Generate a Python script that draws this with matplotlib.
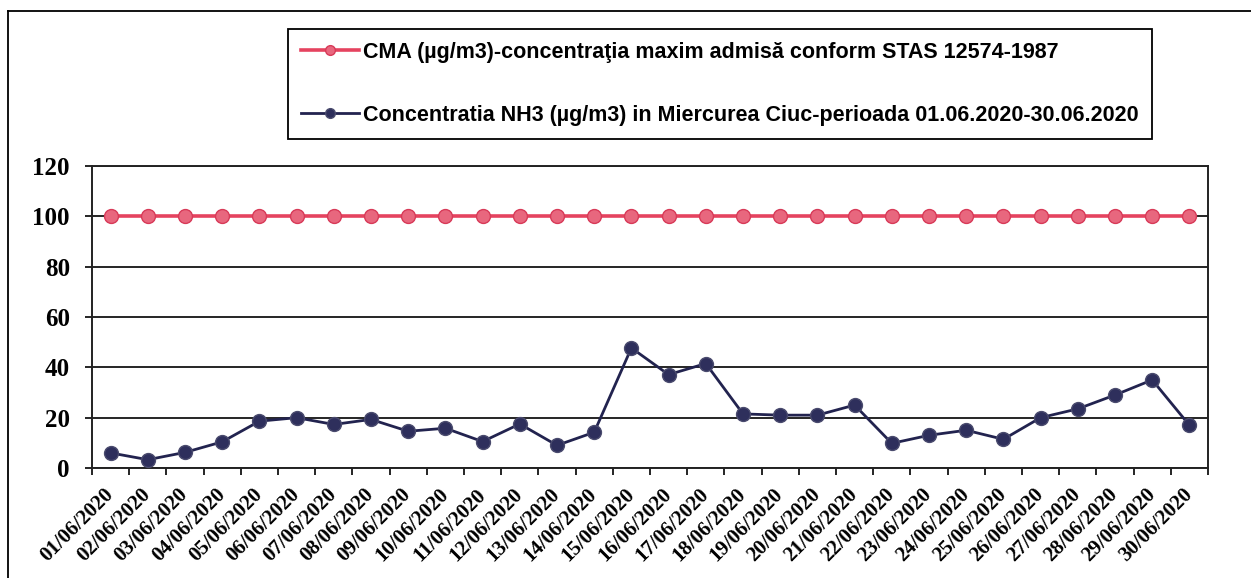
import matplotlib
matplotlib.use("Agg")
import matplotlib.pyplot as plt
import matplotlib.transforms as mtransforms
from matplotlib.lines import Line2D

dates = ["01/06/2020", "02/06/2020", "03/06/2020", "04/06/2020", "05/06/2020",
         "06/06/2020", "07/06/2020", "08/06/2020", "09/06/2020", "10/06/2020",
         "11/06/2020", "12/06/2020", "13/06/2020", "14/06/2020", "15/06/2020",
         "16/06/2020", "17/06/2020", "18/06/2020", "19/06/2020", "20/06/2020",
         "21/06/2020", "22/06/2020", "23/06/2020", "24/06/2020", "25/06/2020",
         "26/06/2020", "27/06/2020", "28/06/2020", "29/06/2020", "30/06/2020"]
cma = [100] * 30
nh3 = [6, 3.3, 6.2, 10.4, 18.6, 20, 17.3, 19.3, 14.6, 15.8,
       10.5, 17.5, 9, 14.2, 47.7, 37.1, 41.5, 21.5, 21, 21,
       25, 9.8, 13, 15, 11.4, 20, 23.5, 29, 35, 17]
yticks = [0, 20, 40, 60, 80, 100, 120]
label_cma = "CMA (µg/m3)-concentraţia maxim admisă conform STAS 12574-1987"
label_nh3 = "Concentratia NH3 (µg/m3) in Miercurea Ciuc-perioada 01.06.2020-30.06.2020"

W, H = 1251, 578
fig = plt.figure(figsize=(W / 100, H / 100), dpi=100)
ax = fig.add_axes([92 / W, 1 - 468 / H, (1208 - 92) / W, (468 - 166) / H])

x = list(range(len(dates)))
red = "#E5435F"
navy = "#22234F"
l1, = ax.plot(x, cma, color=red, lw=2.6, marker="o", ms=10,
              mfc="#E8677E", mec="#D83A58", mew=1.0, zorder=3)
l2, = ax.plot(x, nh3, color=navy, lw=2.0, marker="o", ms=10,
              mfc="#2E2F5C", mec="#4A4B6E", mew=1.0, zorder=3)

ax.set_xlim(-0.5, len(dates) - 0.5)
ax.set_ylim(0, 120)
ax.set_yticks(yticks)
ax.set_yticklabels([str(v) for v in yticks], fontfamily="Liberation Serif",
                   fontweight="bold", fontsize=18)
ax.set_xticks(x)
ax.set_xticklabels(dates, rotation=45, ha="right", va="top",
                   fontfamily="Liberation Serif", fontweight="bold", fontsize=15)
ax.set_xticks([i - 0.5 for i in range(len(dates) + 1)], minor=True)
ax.tick_params(axis="x", which="major", length=0, pad=10)
ax.tick_params(axis="x", which="minor", length=5, width=1.2, direction="out")
ax.tick_params(axis="y", which="major", length=5, width=1.2, direction="out", pad=11)
ax.grid(axis="y", color="black", lw=1.2)
ax.set_axisbelow(True)
for s in ax.spines.values():
    s.set_linewidth(1.4)
    s.set_color("#222222")

offset = mtransforms.ScaledTranslation(7 / 100, -3 / 100, fig.dpi_scale_trans)
for lab in ax.get_xticklabels():
    lab.set_transform(lab.get_transform() + offset)

leg = fig.legend([l1, l2], [label_cma, label_nh3], loc="upper left",
                 bbox_to_anchor=(288 / W, 1 - 29 / H), frameon=True, fancybox=False,
                 edgecolor="black", framealpha=1, borderpad=0.6, labelspacing=1.95,
                 handlelength=2.7, handletextpad=0.2, borderaxespad=0,
                 prop={"family": "Liberation Sans", "weight": "bold", "size": 15.5})
leg.get_frame().set_linewidth(1.3)
for h in leg.legend_handles:
    h.set_markersize(7)

fig.add_artist(Line2D([8 / W, 8 / W], [0, 1 - 11 / H], color="black", lw=1.3,
                      transform=fig.transFigure))
fig.add_artist(Line2D([8 / W, 1], [1 - 11 / H, 1 - 11 / H], color="black", lw=1.3,
                      transform=fig.transFigure))

fig.savefig("out.png", dpi=100)
